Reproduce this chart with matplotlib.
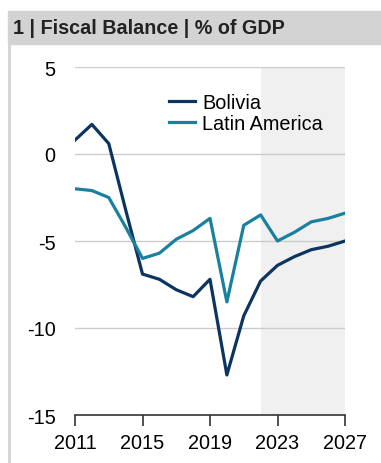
import matplotlib.pyplot as plt
from matplotlib.patches import Rectangle
from matplotlib.lines import Line2D

plt.rcParams['font.family'] = ['Liberation Sans', 'DejaVu Sans']

years = list(range(2011, 2028))
bolivia = [0.8, 1.7, 0.6, -3.2, -6.9, -7.2, -7.8, -8.2, -7.2, -12.7, -9.3, -7.3,
           -6.4, -5.9, -5.5, -5.3, -5.0]
latam = [-2.0, -2.1, -2.5, -4.2, -6.0, -5.7, -4.9, -4.4, -3.7, -8.5, -4.1, -3.5,
         -5.0, -4.5, -3.9, -3.7, -3.4]
forecast_start = 2022
xticks = [2011, 2015, 2019, 2023, 2027]
yticks = [5, 0, -5, -10, -15]

c_bol = "#0b3560"
c_lat = "#1a80a0"

W, H = 381, 464
fig = plt.figure(figsize=(W / 100, H / 100), dpi=100)

# header band and left rule
fig.patches.append(Rectangle((8 / W, 1 - 45 / H), 1, 33 / H, transform=fig.transFigure,
                             color="#d3d3d4", zorder=0))
fig.add_artist(Line2D([9 / W, 9 / W], [0, 1 - 45 / H], transform=fig.transFigure,
                      color="#d3d3d4", lw=2))
fig.text(13 / W, 1 - 28 / H, "1 | Fiscal Balance | % of GDP", fontsize=14.2,
         fontweight="bold", color="#222222", va="center", ha="left")

ax = fig.add_axes([75 / W, 1 - 416 / H, 270 / W, 348 / H])
ax.axvspan(forecast_start, 2027, color="#f0f0f0", lw=0, zorder=0)
for y in yticks[:-1]:
    ax.axhline(y, color="#cccccc", lw=1, zorder=1)

ax.plot(years, bolivia, color=c_bol, lw=2.3, label="Bolivia", zorder=3)
ax.plot(years, latam, color=c_lat, lw=2.3, label="Latin America", zorder=3)

ax.set_xlim(2011, 2027)
ax.set_ylim(-15, 5)
ax.set_xticks(xticks)
ax.set_yticks(yticks)
ax.set_yticklabels([str(v) for v in yticks])
for s in ["top", "right", "left"]:
    ax.spines[s].set_visible(False)
ax.spines["bottom"].set_color("#333333")
ax.spines["bottom"].set_linewidth(1.2)
ax.tick_params(axis="x", direction="out", length=8, width=1.2, color="#333333",
               labelsize=14.3, pad=5)
ax.tick_params(axis="y", length=0, labelsize=14.3, pad=14)

ax.legend(loc="upper left", bbox_to_anchor=(0.31, 0.955), frameon=False, fontsize=14.3,
          handlelength=1.35, handletextpad=0.35, labelspacing=0.12, borderpad=0)

plt.savefig("out.png", dpi=100)
